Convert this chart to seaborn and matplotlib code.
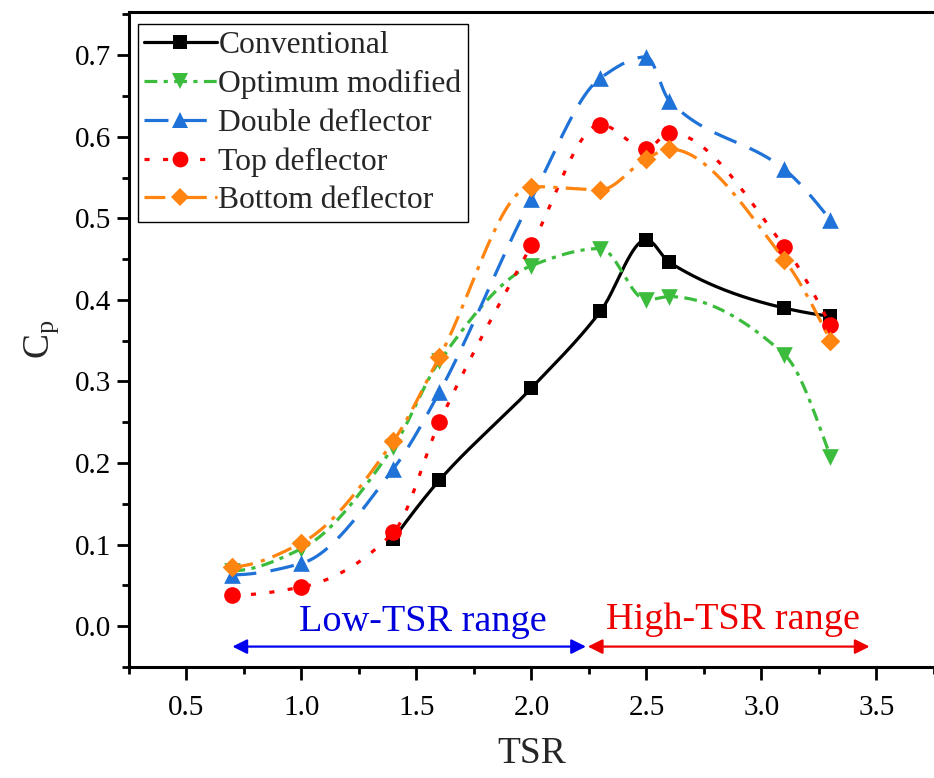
import numpy as np
import pandas as pd
import matplotlib
matplotlib.use("Agg")
import matplotlib.pyplot as plt
from matplotlib.lines import Line2D
import seaborn as sns

# ---- data ----
tsr = [0.7, 1.0, 1.4, 1.6, 2.0, 2.3, 2.5, 2.6, 3.1, 3.3]
tsr_conv = [1.4, 1.6, 2.0, 2.3, 2.5, 2.6, 3.1, 3.3]
cp_conventional = [0.107, 0.179, 0.292, 0.386, 0.474, 0.446, 0.390, 0.380]
cp_optimum = [0.068, 0.095, 0.220, 0.325, 0.442, 0.463, 0.400, 0.404, 0.333, 0.208]
cp_double = [0.063, 0.077, 0.193, 0.287, 0.524, 0.672, 0.698, 0.644, 0.560, 0.498]
cp_top = [0.038, 0.048, 0.115, 0.250, 0.467, 0.615, 0.585, 0.605, 0.465, 0.369]
cp_bottom = [0.073, 0.102, 0.227, 0.330, 0.539, 0.535, 0.573, 0.585, 0.449, 0.350]
series_names = ["Conventional", "Optimum modified", "Double deflector",
                "Top deflector", "Bottom deflector"]
xticks = [0.5, 1.0, 1.5, 2.0, 2.5, 3.0, 3.5]
yticks = [0.0, 0.1, 0.2, 0.3, 0.4, 0.5, 0.6, 0.7]


def pchip_curve(x, y, n=400):
    """Shape-preserving piecewise cubic through the data points (drawing only)."""
    x = np.asarray(x, float)
    y = np.asarray(y, float)
    h = np.diff(x)
    d = np.diff(y) / h
    k = len(x)
    m = np.zeros(k)
    for i in range(1, k - 1):
        if d[i - 1] * d[i] > 0:
            w1 = 2 * h[i] + h[i - 1]
            w2 = h[i] + 2 * h[i - 1]
            m[i] = (w1 + w2) / (w1 / d[i - 1] + w2 / d[i])
        else:
            m[i] = 0.0

    def end(h0, h1, d0, d1):
        v = ((2 * h0 + h1) * d0 - h0 * d1) / (h0 + h1)
        if np.sign(v) != np.sign(d0):
            v = 0.0
        elif np.sign(d0) != np.sign(d1) and abs(v) > abs(3 * d0):
            v = 3 * d0
        return v

    m[0] = end(h[0], h[1], d[0], d[1])
    m[-1] = end(h[-1], h[-2], d[-1], d[-2])
    xs = np.linspace(x[0], x[-1], n)
    idx = np.clip(np.searchsorted(x, xs) - 1, 0, k - 2)
    t = (xs - x[idx]) / h[idx]
    h00 = 2 * t ** 3 - 3 * t ** 2 + 1
    h10 = t ** 3 - 2 * t ** 2 + t
    h01 = -2 * t ** 3 + 3 * t ** 2
    h11 = t ** 3 - t ** 2
    ys = (h00 * y[idx] + h10 * h[idx] * m[idx]
          + h01 * y[idx + 1] + h11 * h[idx] * m[idx + 1])
    return xs, ys


sns.set_theme(style="ticks")
plt.rcParams["font.family"] = ["Liberation Serif", "DejaVu Serif"]
plt.rcParams["mathtext.fontset"] = "stix"

fig = plt.figure(figsize=(9.34, 7.78), dpi=100)
ax = fig.add_axes([0.138, 0.1427, 0.862, 0.8419])

styles = [
    dict(color="black", marker="s", ms=10, dashes=None),
    dict(color="#3cbc3c", marker="v", ms=12, dashes=(4, 2, 1.3, 2)),
    dict(color="#1f72d8", marker="^", ms=12, dashes=(7.5, 4.5)),
    dict(color="#ff0000", marker="o", ms=12, dashes=(1.6, 4.2)),
    dict(color="#ff8410", marker="D", ms=10, dashes=(6.5, 2.6, 1.3, 2.6)),
]
xs_list = [tsr_conv, tsr, tsr, tsr, tsr]
ys_list = [cp_conventional, cp_optimum, cp_double, cp_top, cp_bottom]

handles = []
for i, (name, st, xv, yv) in enumerate(zip(series_names, styles, xs_list, ys_list)):
    sx, sy = pchip_curve(xv, yv)
    line, = ax.plot(sx, sy, color=st["color"], lw=2.3, zorder=2 + i)
    if st["dashes"] is not None:
        line.set_dashes(st["dashes"])
    df = pd.DataFrame({"TSR": xv, "Cp": yv})
    sns.scatterplot(data=df, x="TSR", y="Cp", ax=ax, color=st["color"],
                    marker=st["marker"], s=st["ms"] ** 2, linewidth=0,
                    zorder=2.5 + i, legend=False)
    h = Line2D([], [], color=st["color"], lw=2.3, marker=st["marker"],
               markersize=st["ms"] * 0.95, markeredgewidth=0)
    if st["dashes"] is not None:
        h.set_dashes(st["dashes"])
    handles.append(h)

leg = ax.legend(handles, series_names, loc="upper left",
                bbox_to_anchor=(0.011, 0.981), fontsize=22.8, frameon=True,
                fancybox=False, edgecolor="black", framealpha=1,
                handlelength=2.3, handletextpad=0.05, labelspacing=0.3,
                borderpad=0.2, borderaxespad=0.0)
leg.get_frame().set_linewidth(1.0)

# range arrows
yarr = -0.025
ax.annotate("", xy=(0.7, yarr), xytext=(2.237, yarr),
            arrowprops=dict(arrowstyle="<|-|>", color="#0000ee", lw=1.6,
                            mutation_scale=22, shrinkA=0, shrinkB=0))
ax.annotate("", xy=(2.245, yarr), xytext=(3.47, yarr),
            arrowprops=dict(arrowstyle="<|-|>", color="#ee0000", lw=1.6,
                            mutation_scale=22, shrinkA=0, shrinkB=0))
ax.text(1.526, 0.006, "Low-TSR range", color="#0000dd", fontsize=27.5,
        ha="center", va="center")
ax.text(2.875, 0.008, "High-TSR range", color="#ee0000", fontsize=27.5,
        ha="center", va="center")

ax.set_xlim(0.25, 3.72)
ax.set_ylim(-0.049, 0.753)
ax.set_xticks(xticks)
ax.set_yticks(yticks)
ax.set_xticklabels([f"{v:.1f}" for v in xticks])
ax.set_yticklabels([f"{v:.1f}" for v in yticks])
ax.set_xticks(np.arange(0.25, 3.8, 0.5), minor=True)
ax.set_yticks(np.arange(-0.05, 0.751, 0.1), minor=True)
ax.tick_params(axis="both", which="major", direction="out", length=9,
               width=2, labelsize=21, color="black", labelcolor="black")
ax.tick_params(axis="both", which="minor", direction="out", length=5,
               width=2, color="black")
ax.tick_params(axis="x", pad=11)
for s in ["left", "bottom", "top"]:
    ax.spines[s].set_linewidth(2.2)
    ax.spines[s].set_color("black")
ax.spines["right"].set_visible(False)
ax.set_xlabel("TSR", fontsize=27, labelpad=11)
ax.set_ylabel(r"C$_\mathregular{p}$", fontsize=27, labelpad=10)
ax.grid(False)

fig.savefig("out.png", dpi=100)
